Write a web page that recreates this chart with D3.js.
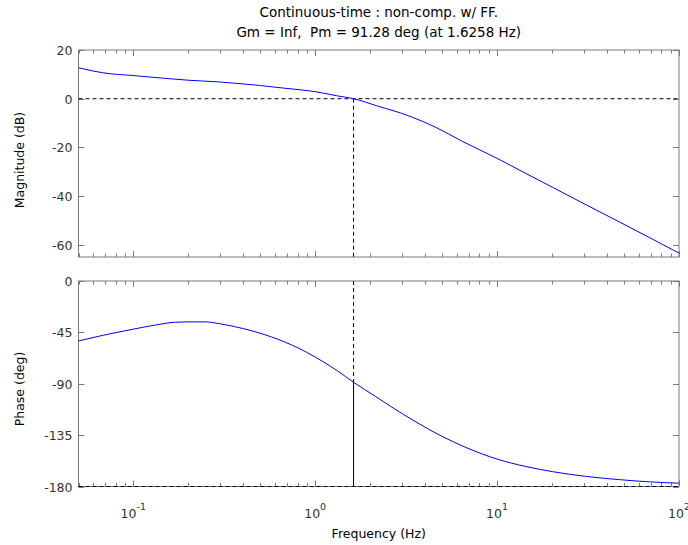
<!DOCTYPE html>
<html>
<head>
<meta charset="utf-8">
<script src="https://cdn.jsdelivr.net/npm/d3@7"></script>
<style>
  html, body { margin: 0; padding: 0; background: #fff; }
  svg { display: block; font-family: "DejaVu Sans", sans-serif; }
  text { white-space: pre; }
</style>
</head>
<body>
<div id="chart"></div>
<script>
// ---- data ----
const titleLines = ["Continuous-time : non-comp. w/ FF.", "Gm = Inf,  Pm = 91.28 deg (at 1.6258 Hz)"];
const magFreq = [0.05, 0.0685, 0.1, 0.159, 0.2, 0.293, 0.4, 0.5, 0.68, 1.0, 1.315, 1.6258, 2.2, 3.26, 4.56, 6.4, 10, 14.4, 20.2, 30.2, 47, 68.7, 100];
const magDb   = [12.7, 10.6, 9.5, 8.2, 7.6, 6.9, 6.1, 5.4, 4.3, 2.9, 1.2, 0, -3.0, -7.0, -11.6, -17.4, -24.5, -30.7, -36.4, -43.2, -50.6, -57.0, -63.4];
const phaseFreq = [0.05, 0.0685, 0.1, 0.131, 0.17, 0.2, 0.25, 0.293, 0.4, 0.575, 0.805, 1.0, 1.315, 1.6258, 2.14, 2.64, 3.54, 4.97, 6.67, 10, 14.4, 20.2, 30.2, 47, 68.7, 100];
const phaseDeg  = [-52.5, -47.5, -42.2, -38.7, -36.1, -35.8, -35.8, -37.2, -41.6, -49, -58.6, -66.6, -78.3, -88.72, -101, -110.5, -123, -136, -145.5, -156, -162.5, -167, -171, -174, -175.9, -177.1];
const magTicks = [20, 0, -20, -40, -60];
const phaseTicks = [0, -45, -90, -135, -180];
const freqMajor = [0.1, 1, 10, 100];
const freqExponents = ["-1", "0", "1", "2"];
const crossFreq = 1.6258;
const crossPhase = -88.72;
const freqDomain = [0.05, 100];
const magDomain = [-65, 20];
const phaseDomain = [-180, 0];

// ---- layout ----
const W = 688, H = 545;
const L = 78.5, R = 679;
const svg = d3.select("#chart").append("svg").attr("width", W).attr("height", H);

const x = d3.scaleLog().domain(freqDomain).range([L, R]);
const yMag = d3.scaleLinear().domain(magDomain).range([257, 50]);
const yPh = d3.scaleLinear().domain(phaseDomain).range([486.5, 281]);

const freqMinor = [];
for (let e = -2; e <= 2; e++) {
  for (let m = 2; m <= 9; m++) {
    const v = m * Math.pow(10, e);
    if (v >= freqDomain[0] && v <= freqDomain[1]) freqMinor.push(v);
  }
}

const axisColor = "#7a7a7a";
const textColor = "#333";
const FS = 12.5;

function panel(y, yTicks) {
  const g = svg.append("g");
  const [y0, y1] = y.range(); // bottom, top
  const tg = g.append("g").attr("stroke", axisColor).attr("stroke-width", 1);
  freqMajor.forEach(f => {
    const px = Math.round(x(f)) + 0.5;
    tg.append("line").attr("x1", px).attr("x2", px).attr("y1", y0).attr("y2", y0 - 6);
    tg.append("line").attr("x1", px).attr("x2", px).attr("y1", y1).attr("y2", y1 + 6);
  });
  freqMinor.forEach(f => {
    const px = Math.round(x(f)) + 0.5;
    tg.append("line").attr("x1", px).attr("x2", px).attr("y1", y0).attr("y2", y0 - 3.5);
    tg.append("line").attr("x1", px).attr("x2", px).attr("y1", y1).attr("y2", y1 + 3.5);
  });
  yTicks.forEach(t => {
    const py = Math.round(y(t)) + 0.5;
    tg.append("line").attr("x1", L).attr("x2", L + 6).attr("y1", py).attr("y2", py);
    tg.append("line").attr("x1", R).attr("x2", R - 6).attr("y1", py).attr("y2", py);
    g.append("text").attr("x", L - 6).attr("y", py + 4.5)
      .attr("text-anchor", "end").attr("font-size", FS).attr("fill", textColor).text(t);
  });
  g.append("rect").attr("x", L).attr("y", y1).attr("width", R - L).attr("height", y0 - y1)
    .attr("fill", "none").attr("stroke", axisColor).attr("stroke-width", 1);
  return g;
}

const gMag = panel(yMag, magTicks);
const gPh = panel(yPh, phaseTicks);

// reference lines (magnitude)
gMag.append("line").attr("x1", L).attr("x2", R).attr("y1", yMag(0)).attr("y2", yMag(0))
  .attr("stroke", "#000").attr("stroke-dasharray", "4,3");
gMag.append("line").attr("x1", x(crossFreq)).attr("x2", x(crossFreq))
  .attr("y1", yMag(0)).attr("y2", yMag(magDomain[0]))
  .attr("stroke", "#000").attr("stroke-dasharray", "4,3");

// reference lines (phase)
gPh.append("line").attr("x1", L).attr("x2", R).attr("y1", yPh(-180)).attr("y2", yPh(-180))
  .attr("stroke", "#000").attr("stroke-dasharray", "4,3");
gPh.append("line").attr("x1", x(crossFreq)).attr("x2", x(crossFreq))
  .attr("y1", yPh(phaseDomain[1])).attr("y2", yPh(crossPhase))
  .attr("stroke", "#000").attr("stroke-dasharray", "4,3");
gPh.append("line").attr("x1", x(crossFreq)).attr("x2", x(crossFreq))
  .attr("y1", yPh(crossPhase)).attr("y2", yPh(-180))
  .attr("stroke", "#000");

// curves
const magLine = d3.line().x((d, i) => x(magFreq[i])).y(d => yMag(d)).curve(d3.curveMonotoneX);
gMag.append("path").datum(magDb).attr("d", magLine)
  .attr("fill", "none").attr("stroke", "#0000ff").attr("stroke-width", 1);
const phLine = d3.line().x((d, i) => x(phaseFreq[i])).y(d => yPh(d)).curve(d3.curveMonotoneX);
gPh.append("path").datum(phaseDeg).attr("d", phLine)
  .attr("fill", "none").attr("stroke", "#0000ff").attr("stroke-width", 1);

// x tick labels (bottom panel)
freqMajor.forEach((f, i) => {
  const t = svg.append("text").attr("x", x(f)).attr("y", 518)
    .attr("text-anchor", "middle").attr("font-size", FS).attr("fill", textColor);
  t.append("tspan").text("10");
  t.append("tspan").attr("dy", -8).attr("font-size", 9.5).text(freqExponents[i]);
});

// axis labels
svg.append("text").attr("transform", "translate(24,160) rotate(-90)")
  .attr("text-anchor", "middle").attr("font-size", FS).attr("fill", "#000").text("Magnitude (dB)");
svg.append("text").attr("transform", "translate(24,389) rotate(-90)")
  .attr("text-anchor", "middle").attr("font-size", FS).attr("fill", "#000").text("Phase (deg)");
svg.append("text").attr("x", (L + R) / 2).attr("y", 538)
  .attr("text-anchor", "middle").attr("font-size", FS).attr("fill", "#000").text("Frequency (Hz)");

// title
titleLines.forEach((s, i) => {
  svg.append("text").attr("x", (L + R) / 2).attr("y", 17 + i * 20)
    .attr("text-anchor", "middle").attr("font-size", 13.5).attr("fill", "#000").text(s);
});
</script>
</body>
</html>
